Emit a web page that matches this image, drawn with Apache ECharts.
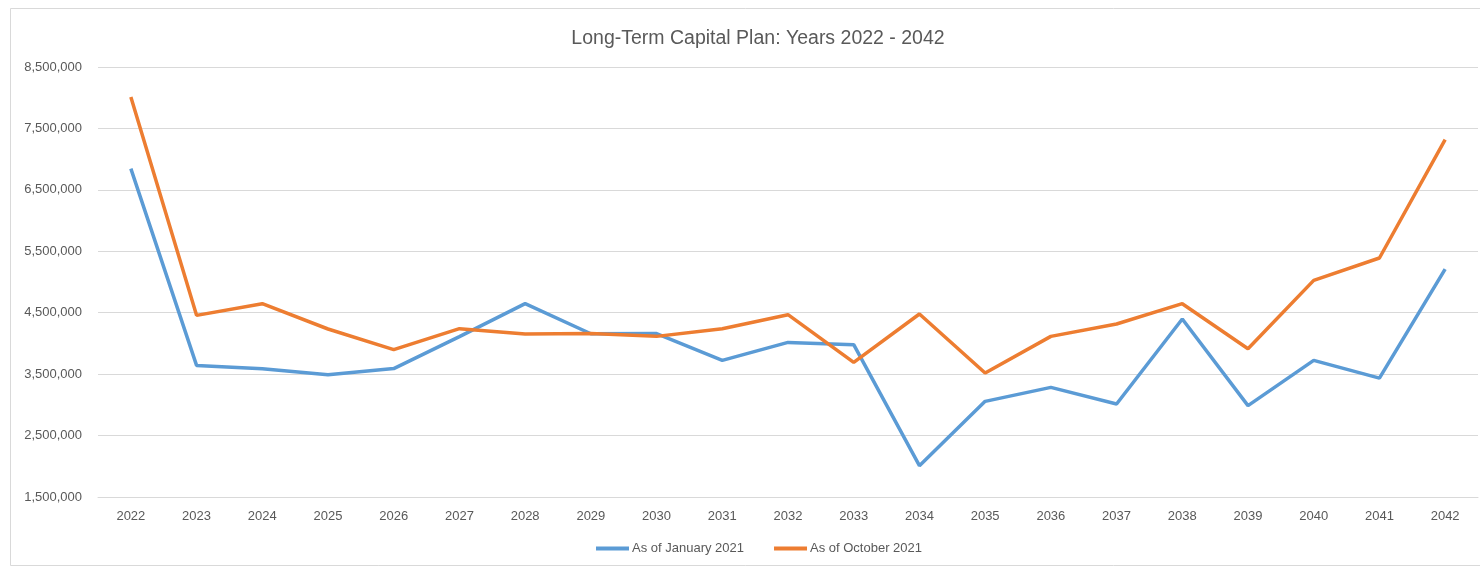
<!DOCTYPE html>
<html>
<head>
<meta charset="utf-8">
<script src="https://cdn.jsdelivr.net/npm/echarts@6/dist/echarts.min.js"></script>
<style>
  html, body { margin: 0; padding: 0; background: #fff; }
  #chart { width: 1480px; height: 567px; }
</style>
</head>
<body>
<div id="chart"></div>
<script>
const years = ['2022','2023','2024','2025','2026','2027','2028','2029','2030','2031','2032','2033','2034','2035','2036','2037','2038','2039','2040','2041','2042'];
const januaryValues = [6845000, 3642000, 3589000, 3490000, 3590000, 4110000, 4647000, 4158000, 4160000, 3724000, 4017000, 3980000, 2010000, 3057000, 3285000, 3014000, 4397000, 2987000, 3724000, 3436000, 5211000];
const octoberValues = [8010000, 4457000, 4647000, 4235000, 3898000, 4240000, 4153000, 4160000, 4115000, 4240000, 4468000, 3691000, 4479000, 3519000, 4115000, 4316000, 4647000, 3914000, 5026000, 5391000, 7317000];
const seriesNames = ['As of January 2021', 'As of October 2021'];
const titleText = 'Long-Term Capital Plan: Years 2022 - 2042';

const chart = echarts.init(document.getElementById('chart'));
const font = 'Liberation Sans, Arial, sans-serif';
chart.setOption({
  animation: false,
  backgroundColor: '#ffffff',
  textStyle: { fontFamily: font },
  graphic: [{
    type: 'rect', silent: true,
    shape: { x: 10.5, y: 8.5, width: 1475, height: 557 },
    style: { fill: 'none', stroke: '#d9d9d9', lineWidth: 1 }
  }],
  title: {
    text: titleText,
    left: 753,
    textAlign: 'center',
    top: 24,
    textStyle: { fontFamily: font, fontSize: 19.5, fontWeight: 'normal', color: '#595959' }
  },
  legend: {
    data: seriesNames,
    bottom: 7,
    left: 591,
    icon: 'rect',
    itemWidth: 33,
    itemHeight: 4,
    itemGap: 30,
    textStyle: { fontFamily: font, fontSize: 13, color: '#595959', padding: [0, 0, 0, -2] }
  },
  grid: { left: 98, right: 2, top: 67, bottom: 70, containLabel: false },
  xAxis: {
    type: 'category',
    data: years,
    boundaryGap: true,
    axisLine: { show: true, lineStyle: { color: '#d9d9d9', width: 1 } },
    axisTick: { show: false },
    axisLabel: { fontFamily: font, fontSize: 13, color: '#595959', margin: 13 }
  },
  yAxis: {
    type: 'value',
    min: 1500000,
    max: 8500000,
    interval: 1000000,
    axisLine: { show: false },
    axisTick: { show: false },
    splitLine: { lineStyle: { color: '#d9d9d9', width: 1 } },
    axisLabel: {
      fontFamily: font, fontSize: 13, color: '#595959', margin: 16,
      formatter: v => v.toLocaleString('en-US')
    }
  },
  series: [
    {
      name: seriesNames[0], type: 'line', data: januaryValues,
      symbol: 'none', lineStyle: { color: '#5B9BD5', width: 3.5 }, itemStyle: { color: '#5B9BD5' }
    },
    {
      name: seriesNames[1], type: 'line', data: octoberValues,
      symbol: 'none', lineStyle: { color: '#ED7D31', width: 3.5 }, itemStyle: { color: '#ED7D31' }
    }
  ]
});
</script>
</body>
</html>
